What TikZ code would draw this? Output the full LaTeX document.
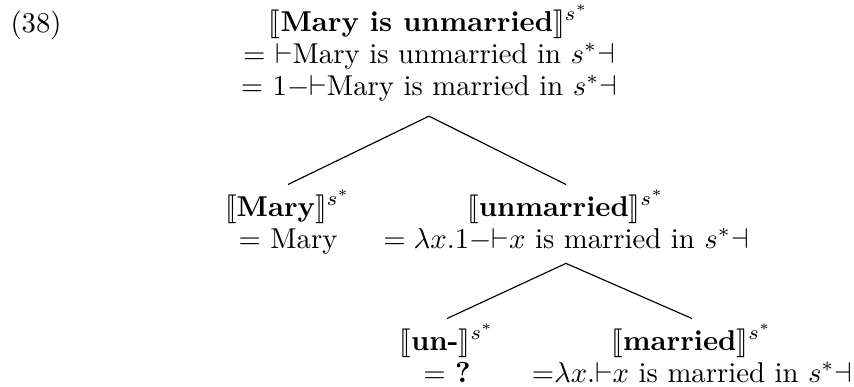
\documentclass[tikz,border=0pt]{standalone}
\usepackage{stmaryrd}
\renewcommand{\arraystretch}{0.93}
\newcommand{\sem}[1]{$\llbracket$\textbf{#1}$\rrbracket^{s^*}$}
\tikzset{
  tn/.style={inner sep=0pt, outer ysep=2pt, anchor=base},
  branch/.style={line width=0.4pt}
}
\begin{document}
\begin{tikzpicture}[x={(0.3484pt,0)}, y={(0,-0.3484pt)}]
\useasboundingbox (0,0) rectangle (854,387);
\node[inner sep=0pt, anchor=base west] (num) at (10,32) {(38)};
\node[tn, outer ysep=4pt] (root) at (429,31) {\begin{tabular}[t]{@{}c@{}}
\sem{Mary is unmarried}\\
$=$ ${\vdash}$Mary is unmarried in $s^*{\dashv}$\\
$=$ 1${-}{\vdash}$Mary is married in $s^*{\dashv}$
\end{tabular}};
\node[tn] (mary) at (288,216) {\begin{tabular}[t]{@{}c@{}}
\sem{Mary}\\
$=$ Mary
\end{tabular}};
\node[tn] (unm) at (566,216) {\begin{tabular}[t]{@{}c@{}}
\sem{unmarried}\\
$= \lambda x.1{-}{\vdash}x$ is married in $s^*{\dashv}$
\end{tabular}};
\node[tn] (un) at (447,350) {\begin{tabular}[t]{@{}c@{}}
\sem{un-}\\
$=$ \textbf{?}
\end{tabular}};
\node[tn] (mar) at (692,350) {\begin{tabular}[t]{@{}c@{}}
\sem{married}\\
${=}\lambda x.{\vdash}x$ is married in $s^*{\dashv}$
\end{tabular}};
\draw[branch] (root.south) -- (mary.north);
\draw[branch] (root.south) -- (unm.north);
\draw[branch] (unm.south) -- (un.north);
\draw[branch] (unm.south) -- (mar.north);
\end{tikzpicture}
\end{document}
